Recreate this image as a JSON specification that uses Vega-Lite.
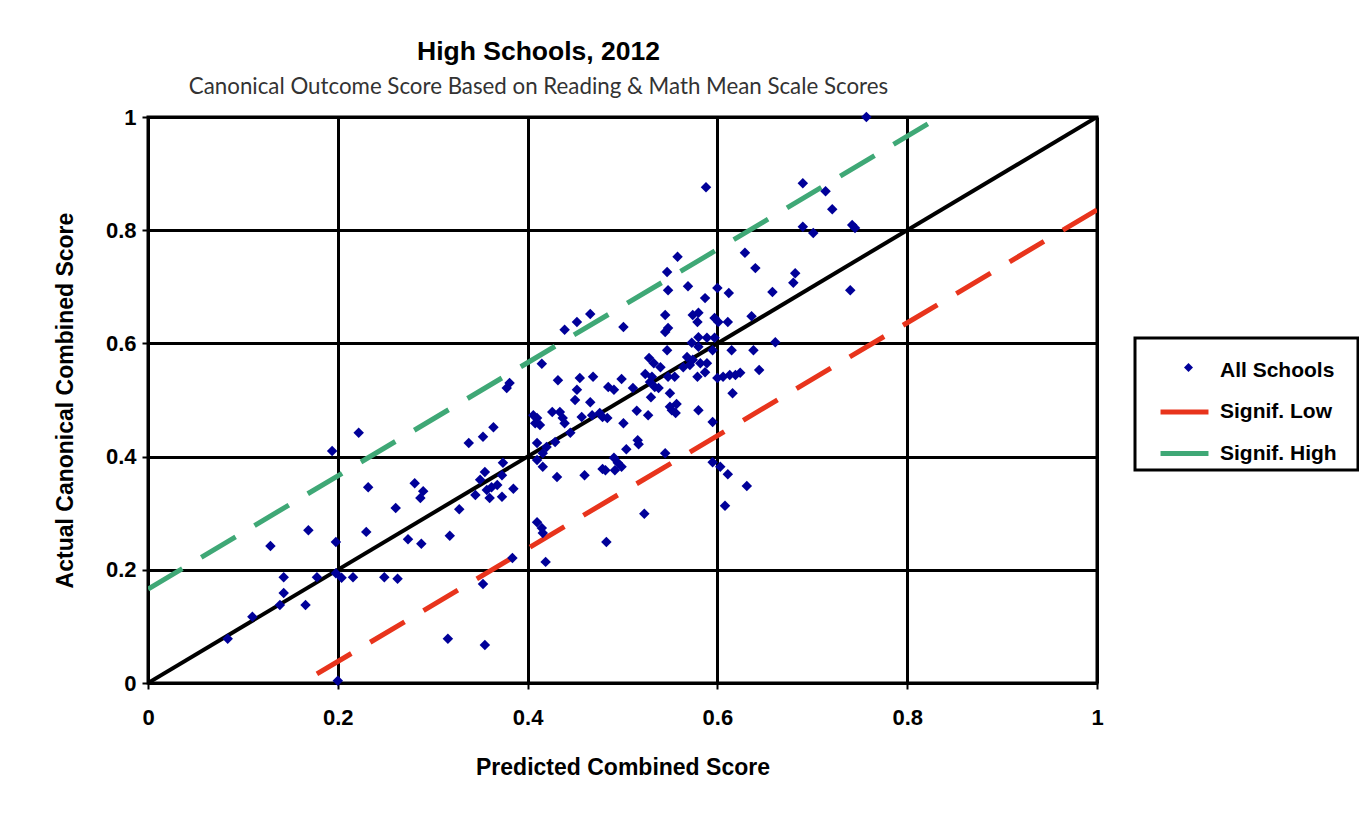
{
  "$schema": "https://vega.github.io/schema/vega-lite/v6.json",
  "width": 949,
  "height": 566,
  "autosize": {"type": "none"},
  "padding": {"left": 148, "top": 117, "right": 262, "bottom": 142},
  "background": "white",
  "title": {
    "text": "High Schools, 2012",
    "subtitle": "Canonical Outcome Score Based on Reading & Math Mean Scale Scores",
    "anchor": "middle",
    "frame": "group",
    "dx": -84,
    "offset": 8,
    "font": "Liberation Sans",
    "fontSize": 26.5,
    "fontWeight": "bold",
    "color": "black",
    "subtitleFont": "Lato",
    "subtitleFontSize": 22.3,
    "subtitleColor": "#333333",
    "subtitlePadding": 10
  },
  "config": {
    "view": {"stroke": "black", "strokeWidth": 3},
    "legend": {"strokeWidth": 3},
    "axis": {
      "grid": true,
      "gridColor": "black",
      "gridWidth": 3,
      "gridOpacity": 1,
      "domainColor": "black",
      "domainWidth": 3,
      "tickColor": "black",
      "tickWidth": 2,
      "tickSize": 6,
      "labelFont": "Liberation Sans",
      "labelFontSize": 22,
      "labelFontWeight": "bold",
      "labelColor": "black",
      "titleFont": "Liberation Sans",
      "titleFontSize": 23,
      "titleFontWeight": "bold",
      "titleColor": "black",
      "labelFlush": false,
      "labelOverlap": false
    }
  },
  "datasets": {
    "identity": [{"x": 0, "y": 0}, {"x": 1, "y": 1}],
    "bands": [
      {"series": "Signif. Low", "x": 0.178, "y": 0.016},
      {"series": "Signif. Low", "x": 1, "y": 0.836},
      {"series": "Signif. High", "x": 0, "y": 0.166},
      {"series": "Signif. High", "x": 0.822, "y": 0.988}
    ],
    "schools": [
      {"series":"All Schools","x":0.084,"y":0.078},{"series":"All Schools","x":0.110,"y":0.117},{"series":"All Schools","x":0.129,"y":0.242},{"series":"All Schools","x":0.143,"y":0.187},{"series":"All Schools","x":0.143,"y":0.159},{"series":"All Schools","x":0.139,"y":0.138},{"series":"All Schools","x":0.169,"y":0.270},{"series":"All Schools","x":0.166,"y":0.138},{"series":"All Schools","x":0.178,"y":0.187},{"series":"All Schools","x":0.198,"y":0.249},{"series":"All Schools","x":0.194,"y":0.410},{"series":"All Schools","x":0.198,"y":0.194},{"series":"All Schools","x":0.204,"y":0.186},{"series":"All Schools","x":0.216,"y":0.187},{"series":"All Schools","x":0.200,"y":0.004},{"series":"All Schools","x":0.222,"y":0.442},{"series":"All Schools","x":0.232,"y":0.346},{"series":"All Schools","x":0.230,"y":0.267},{"series":"All Schools","x":0.249,"y":0.187},{"series":"All Schools","x":0.263,"y":0.184},{"series":"All Schools","x":0.261,"y":0.309},
      {"series":"All Schools","x":0.281,"y":0.353},{"series":"All Schools","x":0.290,"y":0.339},{"series":"All Schools","x":0.287,"y":0.327},{"series":"All Schools","x":0.274,"y":0.254},{"series":"All Schools","x":0.288,"y":0.246},{"series":"All Schools","x":0.318,"y":0.260},{"series":"All Schools","x":0.328,"y":0.307},{"series":"All Schools","x":0.338,"y":0.424},{"series":"All Schools","x":0.353,"y":0.435},{"series":"All Schools","x":0.364,"y":0.452},{"series":"All Schools","x":0.345,"y":0.332},{"series":"All Schools","x":0.350,"y":0.359},{"series":"All Schools","x":0.355,"y":0.373},{"series":"All Schools","x":0.357,"y":0.341},{"series":"All Schools","x":0.362,"y":0.346},{"series":"All Schools","x":0.368,"y":0.350},{"series":"All Schools","x":0.360,"y":0.327},{"series":"All Schools","x":0.373,"y":0.329},{"series":"All Schools","x":0.385,"y":0.343},{"series":"All Schools","x":0.374,"y":0.389},{"series":"All Schools","x":0.373,"y":0.367},{"series":"All Schools","x":0.384,"y":0.221},{"series":"All Schools","x":0.353,"y":0.175},{"series":"All Schools","x":0.316,"y":0.078},{"series":"All Schools","x":0.355,"y":0.067},{"series":"All Schools","x":0.381,"y":0.530},{"series":"All Schools","x":0.378,"y":0.521},
      {"series":"All Schools","x":0.406,"y":0.473},{"series":"All Schools","x":0.410,"y":0.468},{"series":"All Schools","x":0.408,"y":0.459},{"series":"All Schools","x":0.413,"y":0.456},{"series":"All Schools","x":0.426,"y":0.479},{"series":"All Schools","x":0.434,"y":0.479},{"series":"All Schools","x":0.437,"y":0.468},{"series":"All Schools","x":0.439,"y":0.459},{"series":"All Schools","x":0.415,"y":0.564},{"series":"All Schools","x":0.432,"y":0.535},{"series":"All Schools","x":0.410,"y":0.424},{"series":"All Schools","x":0.420,"y":0.417},{"series":"All Schools","x":0.416,"y":0.406},{"series":"All Schools","x":0.410,"y":0.394},{"series":"All Schools","x":0.416,"y":0.382},{"series":"All Schools","x":0.431,"y":0.364},{"series":"All Schools","x":0.429,"y":0.426},{"series":"All Schools","x":0.445,"y":0.442},{"series":"All Schools","x":0.410,"y":0.284},{"series":"All Schools","x":0.415,"y":0.274},{"series":"All Schools","x":0.416,"y":0.265},{"series":"All Schools","x":0.419,"y":0.214},{"series":"All Schools","x":0.439,"y":0.624},{"series":"All Schools","x":0.452,"y":0.638},{"series":"All Schools","x":0.466,"y":0.652},{"series":"All Schools","x":0.450,"y":0.500},{"series":"All Schools","x":0.452,"y":0.518},{"series":"All Schools","x":0.455,"y":0.539},{"series":"All Schools","x":0.469,"y":0.541},{"series":"All Schools","x":0.466,"y":0.496},{"series":"All Schools","x":0.457,"y":0.470},{"series":"All Schools","x":0.468,"y":0.473},{"series":"All Schools","x":0.476,"y":0.477},{"series":"All Schools","x":0.479,"y":0.470},{"series":"All Schools","x":0.484,"y":0.468},{"series":"All Schools","x":0.460,"y":0.367},{"series":"All Schools","x":0.482,"y":0.376},{"series":"All Schools","x":0.491,"y":0.398},{"series":"All Schools","x":0.495,"y":0.389},{"series":"All Schools","x":0.499,"y":0.382},{"series":"All Schools","x":0.479,"y":0.378},{"series":"All Schools","x":0.492,"y":0.376},{"series":"All Schools","x":0.483,"y":0.249},
      {"series":"All Schools","x":0.485,"y":0.523},{"series":"All Schools","x":0.491,"y":0.518},{"series":"All Schools","x":0.499,"y":0.537},{"series":"All Schools","x":0.511,"y":0.521},{"series":"All Schools","x":0.501,"y":0.459},{"series":"All Schools","x":0.504,"y":0.413},{"series":"All Schools","x":0.516,"y":0.429},{"series":"All Schools","x":0.517,"y":0.422},{"series":"All Schools","x":0.515,"y":0.481},{"series":"All Schools","x":0.527,"y":0.473},{"series":"All Schools","x":0.501,"y":0.629},{"series":"All Schools","x":0.523,"y":0.299},{"series":"All Schools","x":0.545,"y":0.406},{"series":"All Schools","x":0.528,"y":0.574},{"series":"All Schools","x":0.533,"y":0.565},{"series":"All Schools","x":0.540,"y":0.558},{"series":"All Schools","x":0.524,"y":0.546},{"series":"All Schools","x":0.531,"y":0.541},{"series":"All Schools","x":0.548,"y":0.541},{"series":"All Schools","x":0.555,"y":0.541},{"series":"All Schools","x":0.529,"y":0.532},{"series":"All Schools","x":0.534,"y":0.523},{"series":"All Schools","x":0.538,"y":0.521},{"series":"All Schools","x":0.530,"y":0.505},{"series":"All Schools","x":0.550,"y":0.512},{"series":"All Schools","x":0.557,"y":0.493},{"series":"All Schools","x":0.550,"y":0.488},{"series":"All Schools","x":0.552,"y":0.482},{"series":"All Schools","x":0.556,"y":0.477},{"series":"All Schools","x":0.580,"y":0.482},{"series":"All Schools","x":0.595,"y":0.461},
      {"series":"All Schools","x":0.568,"y":0.576},{"series":"All Schools","x":0.574,"y":0.571},{"series":"All Schools","x":0.564,"y":0.558},{"series":"All Schools","x":0.571,"y":0.562},{"series":"All Schools","x":0.582,"y":0.565},{"series":"All Schools","x":0.589,"y":0.565},{"series":"All Schools","x":0.587,"y":0.549},{"series":"All Schools","x":0.579,"y":0.541},{"series":"All Schools","x":0.600,"y":0.539},{"series":"All Schools","x":0.606,"y":0.541},{"series":"All Schools","x":0.613,"y":0.544},{"series":"All Schools","x":0.619,"y":0.544},{"series":"All Schools","x":0.624,"y":0.548},{"series":"All Schools","x":0.616,"y":0.512},{"series":"All Schools","x":0.644,"y":0.553},{"series":"All Schools","x":0.661,"y":0.602},{"series":"All Schools","x":0.638,"y":0.588},{"series":"All Schools","x":0.615,"y":0.588},{"series":"All Schools","x":0.595,"y":0.588},{"series":"All Schools","x":0.547,"y":0.588},{"series":"All Schools","x":0.580,"y":0.611},{"series":"All Schools","x":0.589,"y":0.610},{"series":"All Schools","x":0.597,"y":0.610},{"series":"All Schools","x":0.573,"y":0.601},{"series":"All Schools","x":0.580,"y":0.594},{"series":"All Schools","x":0.545,"y":0.650},{"series":"All Schools","x":0.548,"y":0.627},{"series":"All Schools","x":0.545,"y":0.620},{"series":"All Schools","x":0.574,"y":0.650},{"series":"All Schools","x":0.580,"y":0.654},{"series":"All Schools","x":0.579,"y":0.638},{"series":"All Schools","x":0.597,"y":0.645},{"series":"All Schools","x":0.601,"y":0.638},{"series":"All Schools","x":0.611,"y":0.638},{"series":"All Schools","x":0.636,"y":0.648},
      {"series":"All Schools","x":0.548,"y":0.694},{"series":"All Schools","x":0.569,"y":0.701},{"series":"All Schools","x":0.600,"y":0.698},{"series":"All Schools","x":0.612,"y":0.689},{"series":"All Schools","x":0.587,"y":0.680},{"series":"All Schools","x":0.558,"y":0.753},{"series":"All Schools","x":0.547,"y":0.726},{"series":"All Schools","x":0.629,"y":0.760},{"series":"All Schools","x":0.640,"y":0.733},{"series":"All Schools","x":0.588,"y":0.876},{"series":"All Schools","x":0.658,"y":0.691},{"series":"All Schools","x":0.682,"y":0.724},{"series":"All Schools","x":0.680,"y":0.707},{"series":"All Schools","x":0.740,"y":0.694},{"series":"All Schools","x":0.690,"y":0.806},{"series":"All Schools","x":0.701,"y":0.795},{"series":"All Schools","x":0.742,"y":0.809},{"series":"All Schools","x":0.745,"y":0.804},{"series":"All Schools","x":0.690,"y":0.883},{"series":"All Schools","x":0.714,"y":0.869},{"series":"All Schools","x":0.721,"y":0.837},{"series":"All Schools","x":0.757,"y":1.000},{"series":"All Schools","x":0.595,"y":0.390},{"series":"All Schools","x":0.603,"y":0.382},{"series":"All Schools","x":0.611,"y":0.369},{"series":"All Schools","x":0.631,"y":0.348},{"series":"All Schools","x":0.608,"y":0.313}
    ]
  },
  "encoding": {
    "x": {"field": "x", "type": "quantitative", "scale": {"domain": [0, 1], "nice": false}, "axis": {"title": "Predicted Combined Score", "values": [0, 0.2, 0.4, 0.6, 0.8, 1], "format": "~g", "labelPadding": 18, "titlePadding": 28}},
    "y": {"field": "y", "type": "quantitative", "scale": {"domain": [0, 1], "nice": false}, "axis": {"title": "Actual Canonical Combined Score", "values": [0, 0.2, 0.4, 0.6, 0.8, 1], "format": "~g", "labelPadding": 6, "titlePadding": 28}}
  },
  "layer": [
    {
      "data": {"name": "identity"},
      "mark": {"type": "line", "color": "black", "strokeWidth": 4, "clip": true}
    },
    {
      "data": {"name": "bands"},
      "mark": {"type": "line", "strokeWidth": 5, "strokeDash": [40, 22], "strokeCap": "butt", "clip": true},
      "encoding": {
        "color": {
          "field": "series",
          "type": "nominal",
          "scale": {"domain": ["All Schools", "Signif. Low", "Signif. High"], "range": ["#ffffff", "#E8341C", "#3FA876"]},
          "legend": {
            "title": null,
            "orient": "none",
            "legendX": 987,
            "legendY": 221,
            "strokeColor": "black",
            "fillColor": "white",
            "padding": 6,
            "rowPadding": 4.5,
            "symbolType": "stroke",
            "symbolSize": 2300,
            "symbolStrokeWidth": 5,
            "symbolDash": [1, 0],
            "symbolOffset": 17,
            "labelOffset": 9,
            "labelLimit": 400,
            "labelFont": "Liberation Sans",
            "labelFontSize": 21,
            "labelFontWeight": "bold",
            "labelColor": "black",
            "labelExpr": "datum.label + '\u2800'"
          }
        }
      }
    },
    {
      "data": {"name": "schools"},
      "mark": {"type": "point", "shape": "diamond", "filled": true, "size": 110, "opacity": 1},
      "encoding": {
        "fill": {
          "field": "series",
          "type": "nominal",
          "scale": {"domain": ["All Schools"], "range": ["#000099"]},
          "legend": {
            "title": null,
            "orient": "none",
            "legendX": 1036,
            "legendY": 246,
            "padding": 0,
            "symbolType": "diamond",
            "symbolSize": 80,
            "symbolStrokeWidth": 0,
            "labelFontSize": 1,
            "labelExpr": "''"
          }
        }
      }
    }
  ]
}
